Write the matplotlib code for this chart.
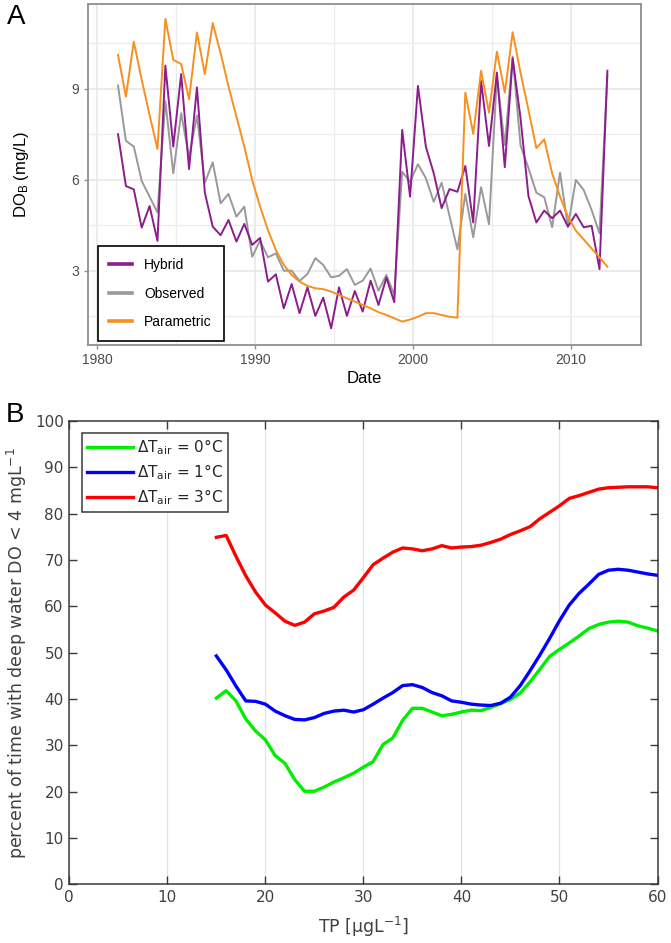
import matplotlib
matplotlib.use("Agg")
import matplotlib.pyplot as plt
from matplotlib.ticker import FixedLocator

plt.rcParams['mathtext.default'] = 'regular'

# ---------------- Panel A data (semi-annual, decimal years) ----------------
dates = [1981.3, 1981.8, 1982.3, 1982.8, 1983.3, 1983.8, 1984.3, 1984.8, 1985.3, 1985.8,
         1986.3, 1986.8, 1987.3, 1987.8, 1988.3, 1988.8, 1989.3, 1989.8, 1990.3, 1990.8,
         1991.3, 1991.8, 1992.3, 1992.8, 1993.3, 1993.8, 1994.3, 1994.8, 1995.3, 1995.8,
         1996.3, 1996.8, 1997.3, 1997.8, 1998.3, 1998.8, 1999.3, 1999.8, 2000.3, 2000.8,
         2001.3, 2001.8, 2002.3, 2002.8, 2003.3, 2003.8, 2004.3, 2004.8, 2005.3, 2005.8,
         2006.3, 2006.8, 2007.3, 2007.8, 2008.3, 2008.8, 2009.3, 2009.8, 2010.3, 2010.8,
         2011.3, 2011.8, 2012.3]

hybrid = [7.51, 5.80, 5.69, 4.43, 5.14, 3.99, 9.77, 7.10, 9.49, 6.36,
          9.05, 5.58, 4.46, 4.18, 4.68, 3.97, 4.55, 3.86, 4.09, 2.65,
          2.89, 1.77, 2.57, 1.61, 2.46, 1.52, 2.12, 1.11, 2.46, 1.52,
          2.34, 1.66, 2.68, 1.88, 2.78, 1.97, 7.65, 5.45, 9.10, 7.10,
          6.22, 5.07, 5.70, 5.61, 6.46, 4.60, 9.26, 7.12, 9.54, 6.42,
          10.01, 8.03, 5.47, 4.60, 4.99, 4.74, 4.99, 4.46, 4.88, 4.44,
          4.49, 3.06, 9.60]

observed = [9.11, 7.29, 7.10, 5.97, 5.45, 4.93, 8.60, 6.22, 8.20, 6.74,
            8.12, 5.91, 6.58, 5.23, 5.54, 4.79, 5.12, 3.47, 4.00, 3.45,
            3.58, 3.01, 3.01, 2.67, 2.90, 3.42, 3.20, 2.79, 2.84, 3.06,
            2.54, 2.68, 3.08, 2.35, 2.87, 2.21, 6.27, 5.94, 6.52, 6.06,
            5.28, 5.91, 4.81, 3.71, 5.54, 4.11, 5.76, 4.54, 9.41, 7.15,
            10.07, 7.13, 6.39, 5.58, 5.43, 4.44, 6.24, 4.46, 6.00, 5.67,
            5.01, 4.24, 9.45]

parametric = [10.12, 8.75, 10.56, 9.30, 8.14, 7.02, 11.31, 9.96, 9.82, 8.66,
              10.86, 9.49, 11.17, 10.18, 9.08, 8.09, 7.10, 6.00, 5.12, 4.35,
              3.69, 3.20, 2.87, 2.65, 2.51, 2.43, 2.40, 2.32, 2.21, 2.10,
              1.99, 1.88, 1.77, 1.64, 1.55, 1.44, 1.33, 1.40, 1.49, 1.61,
              1.61, 1.55, 1.49, 1.46, 8.88, 7.52, 9.60, 8.22, 10.23, 8.88,
              10.87, 9.52, 8.31, 7.05, 7.34, 6.22, 5.45, 4.79, 4.33, 4.04,
              3.74, 3.45, 3.14]

a_labels = ['Hybrid', 'Observed', 'Parametric']
a_xticks = [1980, 1990, 2000, 2010]
a_yticks = [3, 6, 9]

# ---------------- Panel B data ----------------
tp = [15, 16, 17, 18, 19, 20, 21, 22, 23, 24, 25, 26, 27, 28, 29, 30, 31, 32, 33, 34,
      35, 36, 37, 38, 39, 40, 41, 42, 43, 44, 45, 46, 47, 48, 49, 50, 51, 52, 53, 54,
      55, 56, 57, 58, 59, 60]

dt0 = [40.2, 41.8, 39.6, 35.7, 33.1, 31.2, 27.8, 26.1, 22.6, 20.1, 20.1, 21.0, 22.1, 23.0, 24.0,
       25.3, 26.5, 30.2, 31.6, 35.4, 38.0, 38.0, 37.2, 36.4, 36.7, 37.2, 37.6, 37.5, 38.2, 39.0,
       39.9, 41.3, 43.7, 46.4, 49.2, 50.7, 52.1, 53.6, 55.2, 56.1, 56.6, 56.8, 56.6, 55.8, 55.3,
       54.7]

dt1 = [49.3, 46.3, 42.8, 39.6, 39.5, 38.9, 37.4, 36.4, 35.6, 35.5, 36.0, 36.9, 37.4, 37.6, 37.2,
       37.7, 38.9, 40.2, 41.4, 42.9, 43.1, 42.5, 41.4, 40.7, 39.6, 39.3, 38.9, 38.7, 38.6, 39.1,
       40.4, 42.9, 46.1, 49.5, 53.1, 56.9, 60.3, 62.8, 64.8, 66.9, 67.8, 68.0, 67.8, 67.4, 67.0,
       66.7]

dt3 = [74.9, 75.3, 70.8, 66.6, 63.1, 60.3, 58.6, 56.8, 55.9, 56.6, 58.4, 59.0, 59.8, 62.0, 63.5,
       66.2, 69.0, 70.4, 71.7, 72.6, 72.4, 72.0, 72.4, 73.1, 72.6, 72.8, 72.9, 73.2, 73.8, 74.5,
       75.5, 76.3, 77.2, 78.9, 80.3, 81.7, 83.3, 83.9, 84.6, 85.3, 85.6, 85.7, 85.8, 85.8, 85.8,
       85.6]

b_labels = [r'$\Delta T_{air}$ = 0°C', r'$\Delta T_{air}$ = 1°C', r'$\Delta T_{air}$ = 3°C']
b_xticks = [0, 10, 20, 30, 40, 50, 60]
b_yticks = [0, 10, 20, 30, 40, 50, 60, 70, 80, 90, 100]

# ---------------- Figure ----------------
W, H = 671, 943
fig = plt.figure(figsize=(W / 100, H / 100), dpi=100)
fig.patch.set_facecolor('white')

def rect(l, r, t, b):
    return [l / W, 1 - b / H, (r - l) / W, (b - t) / H]

# ===== Panel A =====
fa = 'Liberation Sans'
axA = fig.add_axes(rect(87.7, 640.7, 4, 345))
axA.set_xlim(1979.38, 2014.41)
axA.set_ylim(0.56, 11.80)
axA.xaxis.set_major_locator(FixedLocator(a_xticks))
axA.xaxis.set_minor_locator(FixedLocator([1985, 1995, 2005]))
axA.yaxis.set_major_locator(FixedLocator(a_yticks))
axA.yaxis.set_minor_locator(FixedLocator([1.5, 4.5, 7.5, 10.5]))
axA.grid(which='major', color='#e6e6e6', lw=1.1)
axA.grid(which='minor', color='#ececec', lw=0.9)
axA.set_axisbelow(True)
for s in axA.spines.values():
    s.set_color('#8f8f8f')
    s.set_linewidth(1.3)
axA.tick_params(which='major', length=3, width=1.0, color='#8f8f8f',
                labelcolor='#4d4d4d', labelsize=10, pad=3)
axA.tick_params(which='minor', length=0)
for lab in axA.get_xticklabels() + axA.get_yticklabels():
    lab.set_family(fa)

colA = ['#8c1d8c', '#999999', '#f7901e']
lo, = axA.plot(dates, observed, color=colA[1], lw=1.4, zorder=2)
lh, = axA.plot(dates, hybrid, color=colA[0], lw=1.4, zorder=3)
lp, = axA.plot(dates, parametric, color=colA[2], lw=1.4, zorder=4)
legA = axA.legend([lh, lo, lp], a_labels, loc='lower left',
                  bbox_to_anchor=(0.018, 0.012), borderaxespad=0,
                  prop={'family': fa, 'size': 10}, fancybox=False,
                  edgecolor='black', framealpha=1, handlelength=1.6,
                  handletextpad=0.9, labelspacing=1.05, borderpad=0.85)
legA.get_frame().set_linewidth(1.2)
for l in legA.get_lines():
    l.set_linewidth(2.6)

axA.set_xlabel('Date', family=fa, fontsize=12, color='black')
axA.xaxis.set_label_coords(0.5, -0.077)
axA.set_ylabel(r'DO$_{B}$ (mg/L)', family=fa, fontsize=12, color='black')
axA.yaxis.set_label_coords(-0.103, 0.5)
fig.text(16 / W, 1 - 17 / H, 'A', family=fa, fontsize=20, ha='center', va='center')

# ===== Panel B =====
fb = 'DejaVu Sans'
tc = '#404040'
axB = fig.add_axes(rect(69.3, 657.5, 421, 884.4))
axB.set_xlim(0, 60)
axB.set_ylim(0, 100)
axB.xaxis.set_major_locator(FixedLocator(b_xticks))
axB.yaxis.set_major_locator(FixedLocator(b_yticks))
axB.grid(axis='x', color='#e3e3e3', lw=0.9)
axB.set_axisbelow(True)
for s in axB.spines.values():
    s.set_color('#3a3a3a')
    s.set_linewidth(1.1)
axB.tick_params(direction='in', length=5.5, width=1.0, color='#3a3a3a',
                top=True, right=True, labelcolor=tc, labelsize=11, pad=4)
for lab in axB.get_xticklabels() + axB.get_yticklabels():
    lab.set_family(fb)

colB = ['#00ee00', '#0000ff', '#ff0000']
l0, = axB.plot(tp, dt0, color=colB[0], lw=2.4)
l1, = axB.plot(tp, dt1, color=colB[1], lw=2.4)
l3, = axB.plot(tp, dt3, color=colB[2], lw=2.4)
legB = axB.legend([l0, l1, l3], b_labels, loc='upper left',
                  bbox_to_anchor=(0.0221, 0.9748), borderaxespad=0,
                  prop={'family': fb, 'size': 11}, fancybox=False,
                  edgecolor='#3a3a3a', framealpha=1, handlelength=3.0,
                  handletextpad=0.3, labelspacing=0.35, borderpad=0.3)
legB.get_frame().set_linewidth(1.1)
for t in legB.get_texts():
    t.set_color('#262626')

axB.set_xlabel(r'TP [$\mu$gL$^{-1}$]', family=fb, fontsize=12.5, color=tc)
axB.xaxis.set_label_coords(0.5, -0.066)
axB.set_ylabel(r'percent of time with deep water DO < 4 mgL$^{-1}$', family=fb,
               fontsize=12.5, color=tc)
axB.yaxis.set_label_coords(-0.068, 0.5)
fig.text(15 / W, 1 - 415 / H, 'B', family=fa, fontsize=20, ha='center', va='center')

fig.savefig('out.png', dpi=100, facecolor='white')
